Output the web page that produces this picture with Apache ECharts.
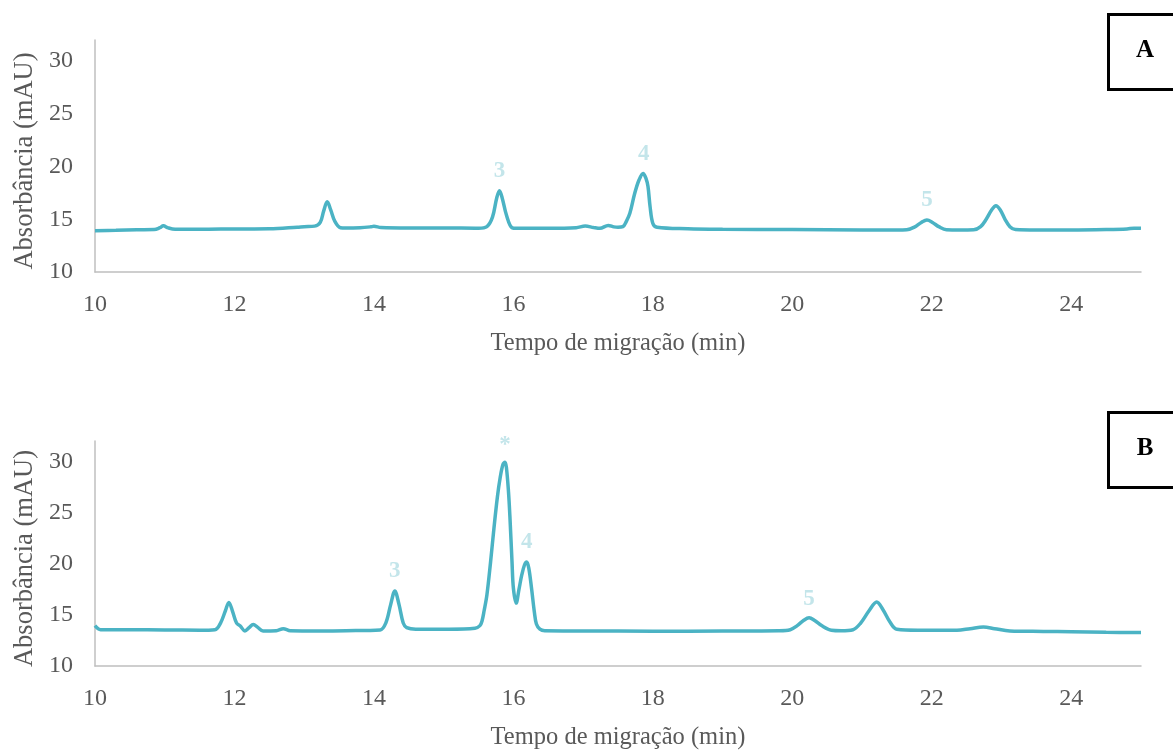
<!DOCTYPE html>
<html><head><meta charset="utf-8">
<script src="https://cdn.jsdelivr.net/npm/echarts@6/dist/echarts.min.js"></script>
<style>html,body{margin:0;padding:0;background:#fff}#c{width:1173px;height:751px}</style>
</head><body><div id="c"></div>
<script>
// Panel A data (migration time, absorbance)
const timeA = [10.00,10.30,10.60,10.85,10.93,10.98,11.05,11.15,11.50,12.00,12.50,12.90,13.00,13.15,13.23,13.28,13.33,13.38,13.44,13.52,13.60,13.80,13.95,14.00,14.10,14.50,15.00,15.50,15.62,15.70,15.76,15.80,15.84,15.90,15.98,16.05,16.50,16.90,17.03,17.15,17.24,17.36,17.44,17.50,17.57,17.62,17.67,17.74,17.80,17.86,17.90,17.93,17.96,18.00,18.06,18.50,19.00,20.00,21.00,21.50,21.64,21.75,21.85,21.93,22.01,22.10,22.21,22.40,22.60,22.70,22.78,22.86,22.92,22.98,23.05,23.12,23.20,23.50,24.00,24.50,24.80,24.90,25.00];
const absA  = [13.92,13.95,14.00,14.02,14.20,14.38,14.18,14.05,14.05,14.08,14.10,14.25,14.30,14.35,14.70,15.80,16.66,15.90,14.80,14.20,14.17,14.20,14.28,14.33,14.22,14.18,14.18,14.15,14.30,15.20,17.00,17.70,17.00,15.40,14.20,14.14,14.14,14.20,14.36,14.22,14.14,14.42,14.28,14.24,14.30,14.80,15.56,17.46,18.70,19.35,18.90,18.10,16.20,14.60,14.24,14.10,14.05,14.02,13.98,13.98,14.00,14.25,14.70,14.93,14.70,14.30,14.00,13.98,14.00,14.30,15.00,15.90,16.28,15.90,15.00,14.30,14.02,13.98,13.98,14.02,14.08,14.16,14.14];
// Panel B data
const timeB = [10.00,10.08,10.50,11.00,11.50,11.72,11.80,11.87,11.92,11.97,12.03,12.08,12.15,12.21,12.27,12.33,12.41,12.60,12.70,12.80,13.20,13.60,14.09,14.17,14.24,14.30,14.36,14.42,14.47,14.60,15.00,15.45,15.52,15.55,15.58,15.62,15.67,15.72,15.77,15.81,15.85,15.88,15.90,15.93,15.95,15.98,16.00,16.04,16.08,16.12,16.16,16.19,16.22,16.26,16.30,16.33,16.38,16.45,17.00,18.00,19.00,19.80,19.97,20.07,20.16,20.24,20.32,20.42,20.56,20.70,20.87,20.98,21.10,21.21,21.30,21.40,21.50,21.80,22.36,22.55,22.74,22.90,23.12,23.60,24.00,24.50,25.00];
const absB  = [13.94,13.55,13.55,13.53,13.50,13.55,14.20,15.40,16.22,15.40,14.20,13.94,13.43,13.75,14.07,13.80,13.43,13.45,13.65,13.45,13.43,13.45,13.53,14.20,16.00,17.34,16.00,14.20,13.75,13.59,13.60,13.70,13.95,14.40,15.40,16.95,20.00,23.40,26.50,28.40,29.70,29.93,29.40,27.00,24.60,20.20,17.60,16.15,17.50,18.90,19.90,20.16,19.60,17.60,15.30,14.10,13.60,13.45,13.43,13.40,13.42,13.45,13.55,13.95,14.45,14.71,14.45,13.95,13.50,13.45,13.55,14.20,15.40,16.25,15.50,14.30,13.59,13.50,13.50,13.65,13.81,13.65,13.43,13.38,13.35,13.30,13.27];
// peak annotations [label, time, absorbance]
const peakLabelsA = [['3',15.80,19.6],['4',17.87,21.2],['5',21.93,16.85]];
const peakLabelsB = [['3',14.30,19.3],['*',15.88,31.6],['4',16.19,22.1],['5',20.24,16.5]];
const panelTags = ['A','B'];

const FONT = '"Liberation Serif","DejaVu Serif",serif';
const LINE = '#4bb3c4';
const LBL = '#b4dfe5';
const AX = '#bfbfbf';
const TXT = '#595959';

function pairs(t, v){ return t.map((x,i)=>[x, v[i]]); }

const grids = [
  {left:95, right:32, top:40, height:232},
  {left:95, right:32, top:441, height:228}
];
function xAxis(i){
  return {type:'value', gridIndex:i, min:10, max:25, interval:1,
    name:'Tempo de migração (min)', nameLocation:'middle', nameGap:59,
    nameTextStyle:{fontFamily:FONT, fontSize:24.5, color:TXT},
    axisLine:{show:true, lineStyle:{color:AX, width:1.5}},
    axisTick:{show:false}, splitLine:{show:false},
    axisLabel:{fontFamily:FONT, fontSize:24, color:TXT, margin:21, interval:0,
      formatter:v=> (v%2===0 && v<25) ? String(v) : ''}};
}
function yAxis(i){
  return {type:'value', gridIndex:i, min:10, max:32, interval:5,
    name:'Absorbância (mAU)', nameLocation:'middle', nameGap:55, nameRotate:90,
    nameTextStyle:{fontFamily:FONT, fontSize:26.5, color:TXT, padding:[0,10,0,0]},
    axisLine:{show:true, lineStyle:{color:AX, width:1.5}},
    axisTick:{show:false}, splitLine:{show:false},
    axisLabel:{fontFamily:FONT, fontSize:24, color:TXT, margin:22,
      formatter:v=> (v%5===0 && v<=30) ? String(v) : ''}};
}
function lineSeries(i, data){
  return {type:'line', xAxisIndex:i, yAxisIndex:i, data:data, smooth:0.35, showSymbol:false,
    lineStyle:{color:LINE, width:3.5}, silent:true, animation:false};
}
function labelSeries(i, labels){
  return {type:'scatter', xAxisIndex:i, yAxisIndex:i, symbolSize:1, itemStyle:{color:'rgba(0,0,0,0)'},
    data:labels.map(l=>({value:[l[1], l[2]], name:l[0]})),
    label:{show:true, position:'inside', formatter:p=>p.name, fontFamily:FONT, fontWeight:'bold', fontSize:23, color:LBL},
    silent:true, animation:false};
}
const tagBoxes = [12, 410];
const graphic = [];
panelTags.forEach((t, i)=>{
  graphic.push({type:'rect', left:1107, top:tagBoxes[i]+1, shape:{width:80, height:75},
    style:{fill:'#fff', stroke:'#000', lineWidth:3}});
  graphic.push({type:'text', x:1145, y:tagBoxes[i]+39, style:{text:t, font:'bold 25px '+FONT, fill:'#000', align:'center', verticalAlign:'middle'}});
});

const chart = echarts.init(document.getElementById('c'), null, {renderer:'canvas'});
chart.setOption({
  animation:false,
  grid:grids,
  xAxis:[xAxis(0), xAxis(1)],
  yAxis:[yAxis(0), yAxis(1)],
  series:[lineSeries(0, pairs(timeA, absA)), lineSeries(1, pairs(timeB, absB)),
          labelSeries(0, peakLabelsA), labelSeries(1, peakLabelsB)],
  graphic:graphic
});
</script></body></html>
